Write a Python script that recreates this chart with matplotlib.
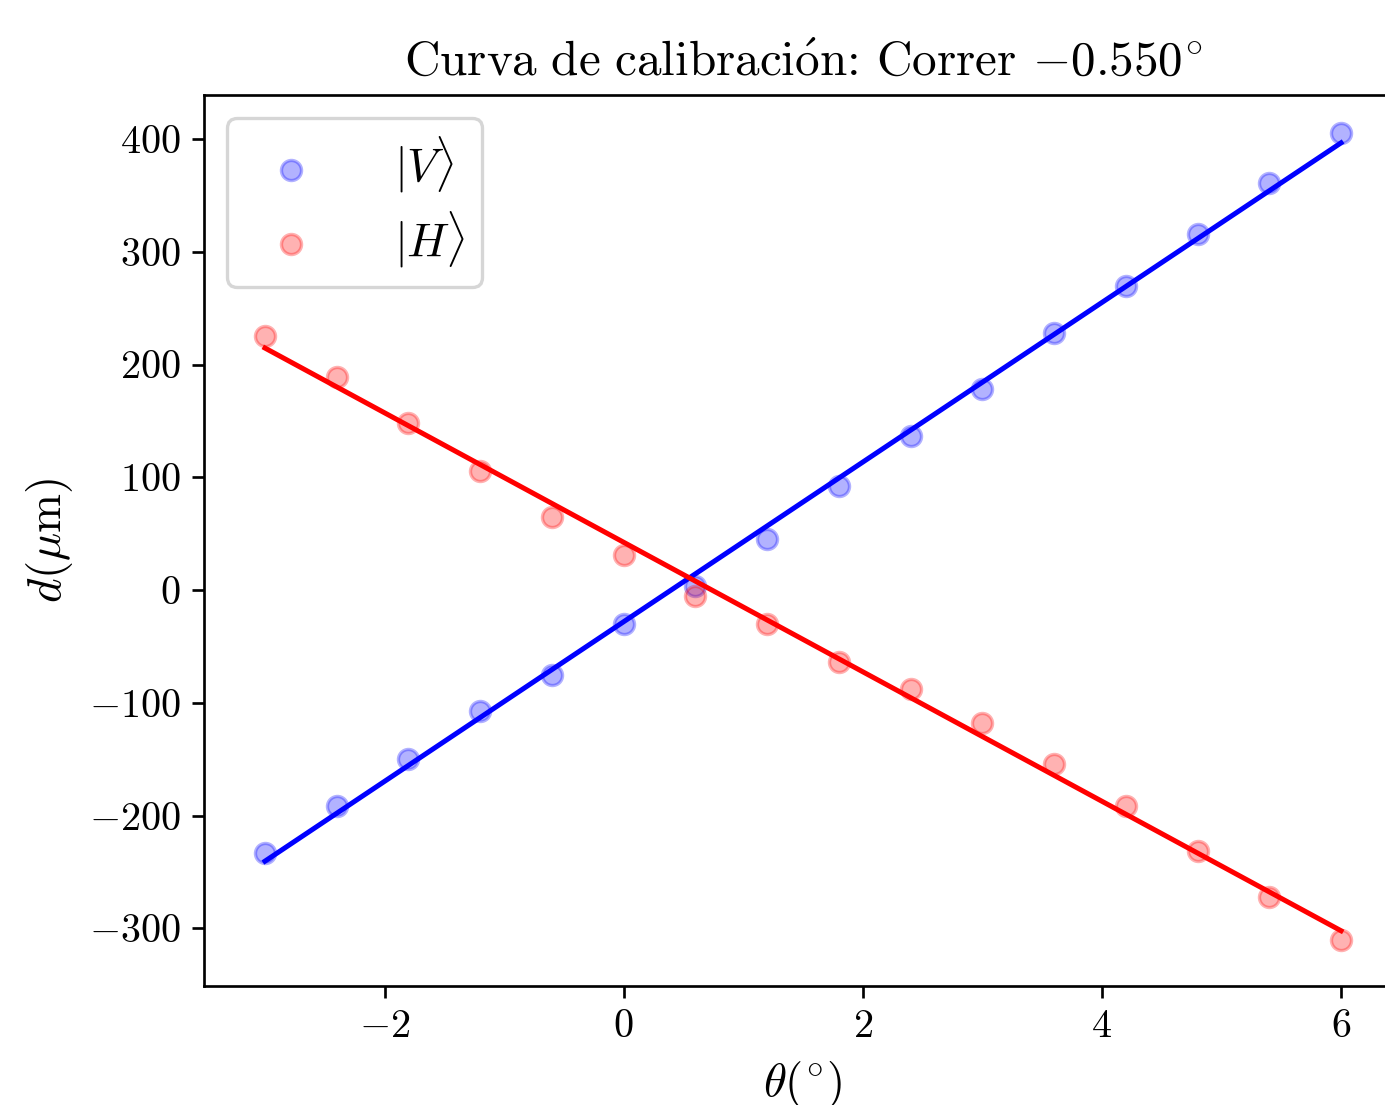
import numpy as np
import matplotlib
matplotlib.use("Agg")
import matplotlib.pyplot as plt

# angle (deg) and measured displacement (um) for both polarisations
theta = [-3.0, -2.4, -1.8, -1.2, -0.6, 0.0, 0.6, 1.2, 1.8, 2.4, 3.0, 3.6, 4.2, 4.8, 5.4, 6.0]
d_V = [-233, -191, -150, -107, -75, -30, 4, 45, 92, 137, 178, 228, 270, 316, 361, 405]
d_H = [225, 189, 148, 106, 65, 31, -5, -30, -64, -88, -118, -154, -191, -231, -272, -310]

plt.rcParams.update({
    "font.family": "serif",
    "font.serif": ["cmr10", "DejaVu Serif"],
    "mathtext.fontset": "cm",
    "axes.formatter.use_mathtext": True,
    "font.size": 12,
})

fig = plt.figure(figsize=(1385 / 241, 1105 / 241), dpi=241)
ax = fig.add_axes([204 / 1385, 119 / 1105, 1198 / 1385, 891 / 1105])

x = np.asarray(theta)
pV = np.polyfit(x, d_V, 1)
pH = np.polyfit(x, d_H, 1)

ax.scatter(theta, d_V, color="blue", alpha=0.3, label=r"$|V\rangle$")
ax.scatter(theta, d_H, color="red", alpha=0.3, label=r"$|H\rangle$")
ax.plot(x, np.polyval(pV, x), color="blue", lw=1.5)
ax.plot(x, np.polyval(pH, x), color="red", lw=1.5)

ax.set_xlim(-3.51, 6.51)
ax.set_ylim(-351, 439)
ax.set_xticks([-2, 0, 2, 4, 6])
ax.set_yticks([-300, -200, -100, 0, 100, 200, 300, 400])

ax.set_title(r"$\mathrm{Curva\ de\ calibraci\acute{o}n}$: Correr $-0.550^{\!\circ}$",
             fontsize=14.7)
ax.set_xlabel(r"$\theta({}^{\!\circ\!})$", fontsize=14)
ax.set_ylabel(r"$d(\mu\mathrm{m})$", fontsize=14)
ax.legend(fontsize=14, loc="upper left", labelspacing=0.3, borderpad=0.35,
          handletextpad=1.2)

fig.savefig("out.png", dpi=241)
